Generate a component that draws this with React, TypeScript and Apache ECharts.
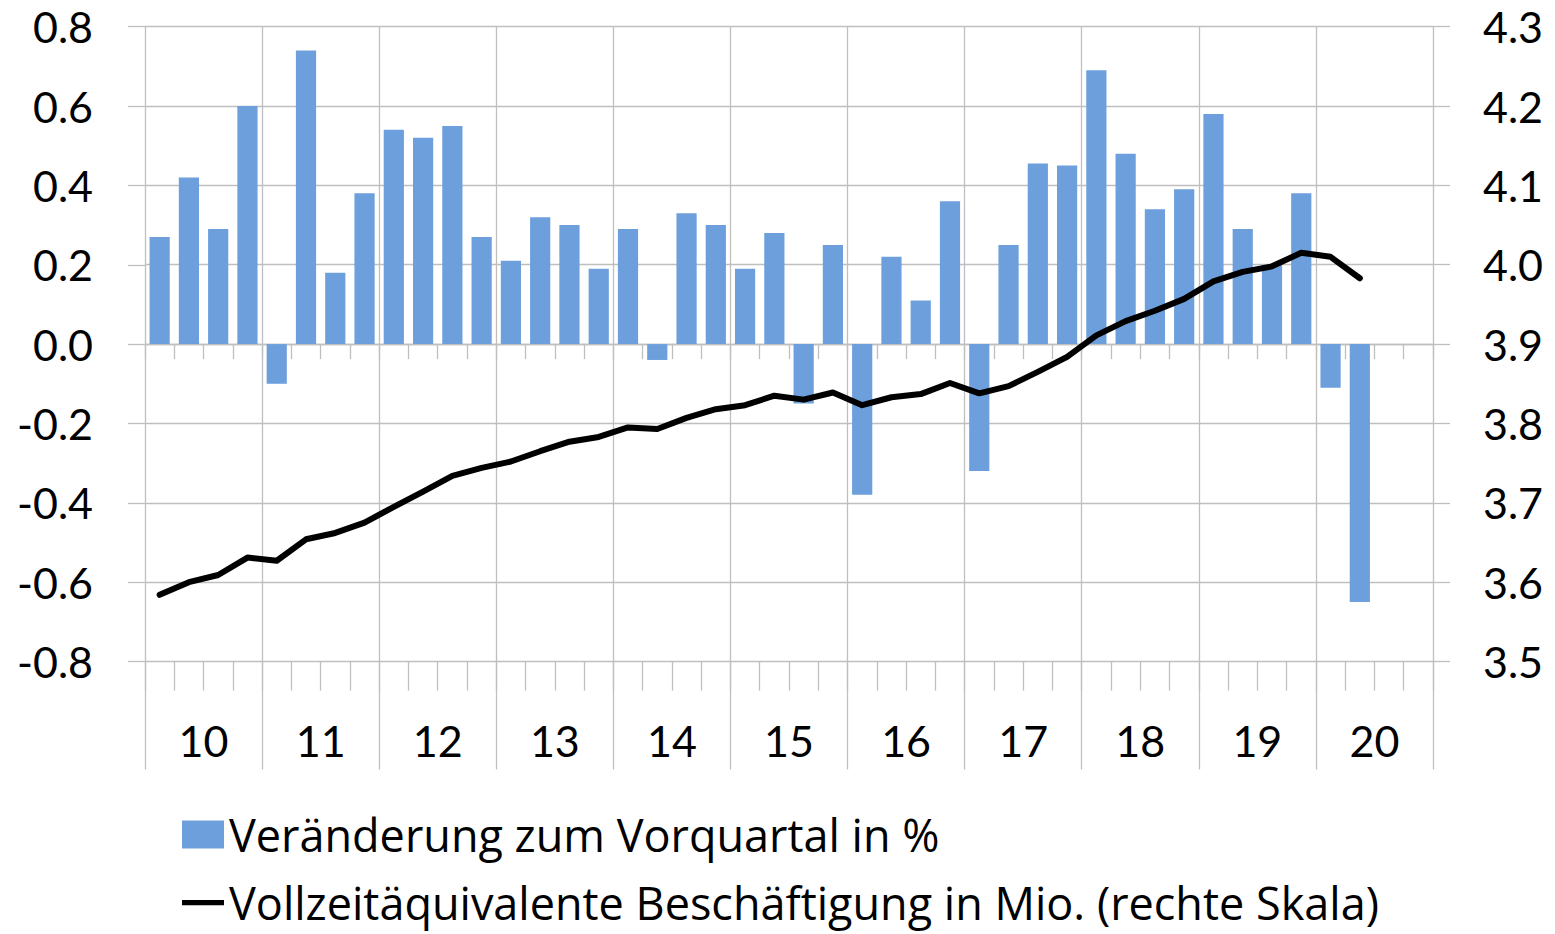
import React, { useEffect, useRef } from 'react';
import * as echarts from 'echarts';

const years = ['10', '11', '12', '13', '14', '15', '16', '17', '18', '19', '20'];
const quarterNames = ['Q1', 'Q2', 'Q3', 'Q4'];
const quarters = years.flatMap((y) => quarterNames.map((q) => `${y} ${q}`));

// Veränderung zum Vorquartal in %
const changeValues: (number | null)[] = [
  0.27, 0.42, 0.29, 0.60,
  -0.10, 0.74, 0.18, 0.38,
  0.54, 0.52, 0.55, 0.27,
  0.21, 0.32, 0.30, 0.19,
  0.29, -0.04, 0.33, 0.30,
  0.19, 0.28, -0.15, 0.25,
  -0.38, 0.22, 0.11, 0.36,
  -0.32, 0.25, 0.455, 0.45,
  0.69, 0.48, 0.34, 0.39,
  0.58, 0.29, 0.20, 0.38,
  -0.11, -0.65, null, null,
];

// Vollzeitäquivalente Beschäftigung in Mio.
const employment: (number | null)[] = [
  3.584, 3.600, 3.609, 3.631,
  3.627, 3.654, 3.662, 3.675,
  3.695, 3.714, 3.734, 3.744,
  3.752, 3.765, 3.777, 3.783,
  3.795, 3.793, 3.807, 3.818,
  3.823, 3.835, 3.830, 3.839,
  3.823, 3.833, 3.837, 3.851,
  3.838, 3.847, 3.865, 3.884,
  3.911, 3.929, 3.942, 3.957,
  3.979, 3.991, 3.998, 4.015,
  4.010, 3.983, null, null,
];

const seriesBarName = 'Veränderung zum Vorquartal in %';
const seriesLineName = 'Vollzeitäquivalente Beschäftigung in Mio. (rechte Skala)';

const FONT = 'Lato';
const LEGEND_FONT = 'Open Sans';
const GRID = '#bfbfbf';
const BAR = '#6c9fdb';

export default function App() {
  const ref = useRef<HTMLDivElement>(null);
  useEffect(() => {
    if (!ref.current) return;
    const chart = echarts.init(ref.current, undefined, { renderer: 'svg' });
    const gridLine = { color: GRID, width: 1.3 };
    chart.setOption({
      animation: false,
      textStyle: { fontFamily: FONT },
      grid: { left: 145, right: 122, top: 26.7, bottom: 272.5, containLabel: false },
      legend: {
        orient: 'vertical',
        left: 182,
        top: 812,
        padding: 0,
        itemWidth: 42,
        itemHeight: 28,
        itemGap: 23,
        textStyle: { fontSize: 45, fontFamily: LEGEND_FONT, color: '#000' },
        data: [
          { name: seriesBarName, icon: 'rect' },
          { name: seriesLineName, icon: 'path://M0,0L40,0L40,5L0,5Z' },
        ],
      },
      xAxis: [
        {
          type: 'category',
          data: quarters,
          position: 'bottom',
          boundaryGap: true,
          axisLine: { show: true, onZero: true, onZeroAxisIndex: 0, lineStyle: gridLine },
          axisTick: { show: true, interval: 0, length: 15, lineStyle: gridLine },
          axisLabel: { show: false },
          splitLine: { show: false },
        },
        {
          type: 'category',
          data: years,
          position: 'bottom',
          boundaryGap: true,
          axisLine: { show: false, onZero: false },
          axisTick: { show: true, interval: 0, length: 108, lineStyle: gridLine },
          axisLabel: { show: true, interval: 0, fontSize: 43, margin: 57, color: '#000', fontFamily: FONT },
          splitLine: { show: true, interval: 0, lineStyle: gridLine },
        },
        {
          type: 'category',
          data: quarters,
          position: 'bottom',
          boundaryGap: true,
          axisLine: { show: false, onZero: false },
          axisTick: { show: true, interval: 0, length: 29, lineStyle: gridLine },
          axisLabel: { show: false },
          splitLine: { show: false },
        },
      ],
      yAxis: [
        {
          type: 'value',
          min: -0.8,
          max: 0.8,
          interval: 0.2,
          position: 'left',
          axisLine: { show: false },
          axisTick: { show: true, length: 17, lineStyle: gridLine },
          axisLabel: {
            fontSize: 43,
            margin: 52,
            color: '#000',
            fontFamily: FONT,
            formatter: (v: number) => v.toFixed(1),
          },
          splitLine: { show: true, lineStyle: gridLine },
        },
        {
          type: 'value',
          min: 3.5,
          max: 4.3,
          interval: 0.1,
          position: 'right',
          axisLine: { show: false },
          axisTick: { show: true, length: 17, lineStyle: gridLine },
          axisLabel: {
            fontSize: 43,
            margin: 50,
            color: '#000',
            fontFamily: FONT,
            formatter: (v: number) => v.toFixed(1),
          },
          splitLine: { show: false },
        },
      ],
      series: [
        {
          name: seriesBarName,
          type: 'bar',
          xAxisIndex: 0,
          yAxisIndex: 0,
          data: changeValues,
          barCategoryGap: '31%',
          itemStyle: { color: BAR },
          z: 2,
        },
        {
          name: seriesLineName,
          type: 'line',
          xAxisIndex: 0,
          yAxisIndex: 1,
          data: employment,
          symbol: 'none',
          lineStyle: { color: '#000', width: 6, join: 'round', cap: 'round' },
          itemStyle: { color: '#000' },
          z: 3,
        },
      ],
    });
    return () => chart.dispose();
  }, []);
  return (
    <div
      ref={ref}
      style={{ position: 'fixed', left: 0, top: 0, width: 1555, height: 934, background: '#fff' }}
    />
  );
}
